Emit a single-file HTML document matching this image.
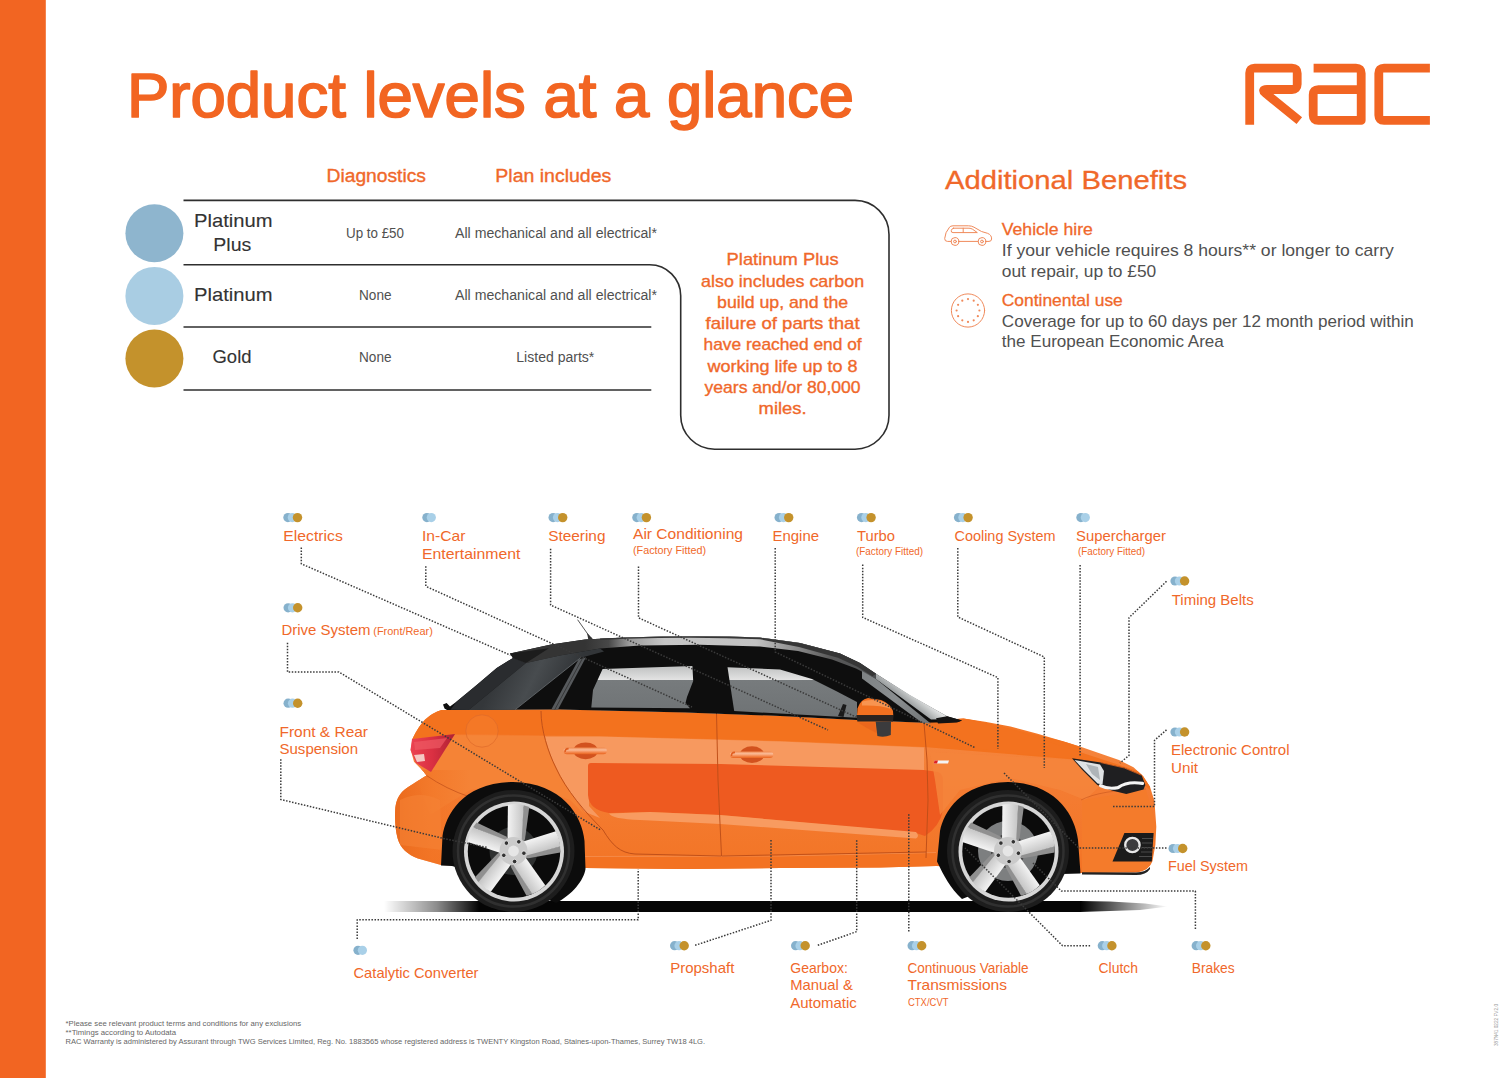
<!DOCTYPE html>
<html lang="en"><head><meta charset="utf-8"><title>Product levels at a glance</title>
<style>
html,body{margin:0;padding:0;background:#fff;}
body{width:1500px;height:1078px;overflow:hidden;font-family:'Liberation Sans', sans-serif;}
svg{display:block}
svg text{font-family:"Liberation Sans",sans-serif;}
</style></head><body>
<svg width="1500" height="1078" viewBox="0 0 1500 1078">
<rect width="1500" height="1078" fill="#fff"/>
<!-- top section -->
<rect x="0" y="0" width="45.8" height="1078" fill="#F26522"/>
<text x="127.0" y="116.5" font-size="62.5" fill="#F26522" text-anchor="start" font-weight="normal" textLength="727.0" lengthAdjust="spacingAndGlyphs" stroke="#F26522" stroke-width="1.7" stroke-linejoin="round">Product levels at a glance</text>
<g fill="none" stroke="#F26522" stroke-width="8.8" stroke-linejoin="round" aria-label="RAC"><title>RAC</title>
<path d="M1249.7 124.8 V73 Q1249.7 68.1 1254.6 68.1 H1292 Q1297.2 68.1 1297.2 73.3 V84.3 Q1297.2 89.5 1292 89.5 H1267 Q1261 89.5 1265.5 93.2 L1299.3 120.6"/>
<path d="M1313.6 68.1 H1356 Q1361.2 68.1 1361.2 73.3 V120.4 H1318.4 Q1313.2 120.4 1313.2 115.2 V94.8 Q1313.2 89.6 1318.4 89.6 H1361.2"/>
<path d="M1429.9 68.1 H1384 Q1378.8 68.1 1378.8 73.3 V115.2 Q1378.8 120.4 1384 120.4 H1429.9"/>
</g>
<text x="326.5" y="181.5" font-size="18" fill="#F0682A" text-anchor="start" font-weight="normal" textLength="99.5" lengthAdjust="spacingAndGlyphs" stroke="#F0682A" stroke-width="0.35">Diagnostics</text>
<text x="495.3" y="181.5" font-size="18" fill="#F0682A" text-anchor="start" font-weight="normal" textLength="116.0" lengthAdjust="spacingAndGlyphs" stroke="#F0682A" stroke-width="0.35">Plan includes</text>
<circle cx="154.4" cy="233.2" r="29" fill="#8EB5CE"/>
<circle cx="154.4" cy="295.9" r="29" fill="#A9CDE3"/>
<circle cx="154.4" cy="358.5" r="29" fill="#C4922C"/>
<g fill="none" stroke="#2e2e2e" stroke-width="1.6">
<path d="M183.5 200.4 H855 A34 34 0 0 1 889 234.4 V415.2 A34 34 0 0 1 855 449.2 H714.7 A34 34 0 0 1 680.7 415.2 V295.8 A31 31 0 0 0 649.7 264.8 H183.5"/>
<path d="M183.5 327 H651.3"/>
<path d="M183.5 390 H651.3"/>
</g>
<text x="194.0" y="227.3" font-size="18.5" fill="#333" text-anchor="start" font-weight="normal" textLength="78.5" lengthAdjust="spacingAndGlyphs" stroke="#333" stroke-width="0.12">Platinum</text>
<text x="213.3" y="250.5" font-size="18.5" fill="#333" text-anchor="start" font-weight="normal" textLength="38.0" lengthAdjust="spacingAndGlyphs" stroke="#333" stroke-width="0.12">Plus</text>
<text x="194.0" y="301.2" font-size="18.5" fill="#333" text-anchor="start" font-weight="normal" textLength="78.5" lengthAdjust="spacingAndGlyphs" stroke="#333" stroke-width="0.12">Platinum</text>
<text x="212.5" y="363.3" font-size="18.5" fill="#333" text-anchor="start" font-weight="normal" textLength="39.0" lengthAdjust="spacingAndGlyphs" stroke="#333" stroke-width="0.12">Gold</text>
<text x="346.0" y="238.0" font-size="13.8" fill="#505050" text-anchor="start" font-weight="normal" textLength="58.0" lengthAdjust="spacingAndGlyphs">Up to £50</text>
<text x="359.0" y="299.9" font-size="13.8" fill="#505050" text-anchor="start" font-weight="normal" textLength="32.5" lengthAdjust="spacingAndGlyphs">None</text>
<text x="359.0" y="362.0" font-size="13.8" fill="#505050" text-anchor="start" font-weight="normal" textLength="32.5" lengthAdjust="spacingAndGlyphs">None</text>
<text x="455.0" y="237.8" font-size="13.8" fill="#505050" text-anchor="start" font-weight="normal" textLength="202.0" lengthAdjust="spacingAndGlyphs">All mechanical and all electrical*</text>
<text x="455.0" y="299.5" font-size="13.8" fill="#505050" text-anchor="start" font-weight="normal" textLength="202.0" lengthAdjust="spacingAndGlyphs">All mechanical and all electrical*</text>
<text x="516.3" y="362.2" font-size="13.8" fill="#505050" text-anchor="start" font-weight="normal" textLength="78.0" lengthAdjust="spacingAndGlyphs">Listed parts*</text>
<text x="782.6" y="265.2" font-size="16.4" fill="#F0682A" text-anchor="middle" font-weight="normal" textLength="112.0" lengthAdjust="spacingAndGlyphs" stroke="#F0682A" stroke-width="0.35">Platinum Plus</text>
<text x="782.6" y="286.5" font-size="16.4" fill="#F0682A" text-anchor="middle" font-weight="normal" textLength="163.0" lengthAdjust="spacingAndGlyphs" stroke="#F0682A" stroke-width="0.35">also includes carbon</text>
<text x="782.6" y="307.7" font-size="16.4" fill="#F0682A" text-anchor="middle" font-weight="normal" textLength="131.0" lengthAdjust="spacingAndGlyphs" stroke="#F0682A" stroke-width="0.35">build up, and the</text>
<text x="782.6" y="329.0" font-size="16.4" fill="#F0682A" text-anchor="middle" font-weight="normal" textLength="154.0" lengthAdjust="spacingAndGlyphs" stroke="#F0682A" stroke-width="0.35">failure of parts that</text>
<text x="782.6" y="350.3" font-size="16.4" fill="#F0682A" text-anchor="middle" font-weight="normal" textLength="158.0" lengthAdjust="spacingAndGlyphs" stroke="#F0682A" stroke-width="0.35">have reached end of</text>
<text x="782.6" y="371.5" font-size="16.4" fill="#F0682A" text-anchor="middle" font-weight="normal" textLength="150.0" lengthAdjust="spacingAndGlyphs" stroke="#F0682A" stroke-width="0.35">working life up to 8</text>
<text x="782.6" y="392.8" font-size="16.4" fill="#F0682A" text-anchor="middle" font-weight="normal" textLength="156.0" lengthAdjust="spacingAndGlyphs" stroke="#F0682A" stroke-width="0.35">years and/or 80,000</text>
<text x="782.6" y="414.1" font-size="16.4" fill="#F0682A" text-anchor="middle" font-weight="normal" textLength="48.0" lengthAdjust="spacingAndGlyphs" stroke="#F0682A" stroke-width="0.35">miles.</text>
<text x="945.0" y="188.8" font-size="25.8" fill="#F0682A" text-anchor="start" font-weight="normal" textLength="242.0" lengthAdjust="spacingAndGlyphs" stroke="#F0682A" stroke-width="0.3">Additional Benefits</text>
<text x="1001.8" y="235.3" font-size="16.6" fill="#F0682A" text-anchor="start" font-weight="normal" textLength="91.0" lengthAdjust="spacingAndGlyphs" stroke="#F0682A" stroke-width="0.3">Vehicle hire</text>
<text x="1001.8" y="256.0" font-size="16.6" fill="#505050" text-anchor="start" font-weight="normal" textLength="392.0" lengthAdjust="spacingAndGlyphs">If your vehicle requires 8 hours** or longer to carry</text>
<text x="1001.8" y="276.7" font-size="16.6" fill="#505050" text-anchor="start" font-weight="normal" textLength="154.5" lengthAdjust="spacingAndGlyphs">out repair, up to £50</text>
<text x="1001.8" y="306.0" font-size="16.6" fill="#F0682A" text-anchor="start" font-weight="normal" textLength="121.0" lengthAdjust="spacingAndGlyphs" stroke="#F0682A" stroke-width="0.3">Continental use</text>
<text x="1001.8" y="326.7" font-size="16.6" fill="#505050" text-anchor="start" font-weight="normal" textLength="412.0" lengthAdjust="spacingAndGlyphs">Coverage for up to 60 days per 12 month period within</text>
<text x="1001.8" y="347.3" font-size="16.6" fill="#505050" text-anchor="start" font-weight="normal" textLength="222.0" lengthAdjust="spacingAndGlyphs">the European Economic Area</text>
<g fill="none" stroke="#F08A5B" stroke-width="1" stroke-linecap="round" stroke-linejoin="round">
<path d="M951.2 241.4 H947.5 Q944.6 241.4 944.7 238.5 Q945 232.5 949.5 227.2 Q950.5 225.9 953 225.8 H968.5 Q971.5 225.8 974 227.2 L981.5 231.5 L987.5 233.3 Q991.8 235 991.6 239 Q991.5 241.4 989 241.4 H985.8 M958.8 241.4 H978.2"/>
<circle cx="955" cy="241.5" r="3.9"/><circle cx="955" cy="241.5" r="1.4"/>
<circle cx="982" cy="241.5" r="3.9"/><circle cx="982" cy="241.5" r="1.4"/>
<path d="M953.5 228.2 H969 Q971 228.3 972.5 229.2 L977.3 232.6 H953 Q950.8 232.6 951.3 230.5 Q951.8 228.3 953.5 228.2 Z M963.2 228.2 V232.6"/>
<circle cx="968" cy="310.5" r="16.6"/>
</g>
<circle cx="968.00" cy="299.10" r="1.1" fill="#F08A5B"/>
<circle cx="973.70" cy="300.63" r="1.1" fill="#F08A5B"/>
<circle cx="977.87" cy="304.80" r="1.1" fill="#F08A5B"/>
<circle cx="979.40" cy="310.50" r="1.1" fill="#F08A5B"/>
<circle cx="977.87" cy="316.20" r="1.1" fill="#F08A5B"/>
<circle cx="973.70" cy="320.37" r="1.1" fill="#F08A5B"/>
<circle cx="968.00" cy="321.90" r="1.1" fill="#F08A5B"/>
<circle cx="962.30" cy="320.37" r="1.1" fill="#F08A5B"/>
<circle cx="958.13" cy="316.20" r="1.1" fill="#F08A5B"/>
<circle cx="956.60" cy="310.50" r="1.1" fill="#F08A5B"/>
<circle cx="958.13" cy="304.80" r="1.1" fill="#F08A5B"/>
<circle cx="962.30" cy="300.63" r="1.1" fill="#F08A5B"/>
<!-- car -->
<defs>
<linearGradient id="shL" x1="0" x2="1" y1="0" y2="0"><stop offset="0" stop-color="#000" stop-opacity="0"/><stop offset="0.55" stop-color="#000" stop-opacity="0.45"/><stop offset="1" stop-color="#000" stop-opacity="1"/></linearGradient>
<linearGradient id="shR" x1="0" x2="1" y1="0" y2="0"><stop offset="0" stop-color="#000" stop-opacity="1"/><stop offset="0.5" stop-color="#000" stop-opacity="0.5"/><stop offset="1" stop-color="#000" stop-opacity="0"/></linearGradient>
<linearGradient id="glass" x1="0" x2="0" y1="665" y2="720" gradientUnits="userSpaceOnUse">
<stop offset="0" stop-color="#bcbebe"/><stop offset="0.265" stop-color="#e2e2e2"/><stop offset="0.275" stop-color="#777b7d"/><stop offset="1" stop-color="#6e7274"/></linearGradient>
<linearGradient id="bodyG" x1="0" x2="0" y1="710" y2="870" gradientUnits="userSpaceOnUse">
<stop offset="0" stop-color="#F3721F"/><stop offset="0.16" stop-color="#F4792A"/><stop offset="0.2" stop-color="#F5853D"/><stop offset="0.5" stop-color="#F47C32"/><stop offset="0.9" stop-color="#F37628"/><stop offset="1" stop-color="#F37224"/></linearGradient>
<linearGradient id="rearG" x1="395" x2="470" y1="0" y2="0" gradientUnits="userSpaceOnUse">
<stop offset="0" stop-color="#EA6A1C"/><stop offset="0.5" stop-color="#F27424" stop-opacity="0.6"/><stop offset="1" stop-color="#F27424" stop-opacity="0"/></linearGradient>
<linearGradient id="hnd" x1="0" x2="0" y1="0" y2="1"><stop offset="0" stop-color="#F08A50"/><stop offset="0.35" stop-color="#FABB98"/><stop offset="0.7" stop-color="#F58A50"/><stop offset="1" stop-color="#E8641F"/></linearGradient>
<linearGradient id="spoke" x1="0" x2="1" y1="0" y2="0"><stop offset="0" stop-color="#f4f4f4"/><stop offset="1" stop-color="#c4c4c4"/></linearGradient>
<linearGradient id="roofG" x1="585" x2="880" y1="0" y2="0" gradientUnits="userSpaceOnUse"><stop offset="0" stop-color="#343434"/><stop offset="0.08" stop-color="#484848"/><stop offset="0.15" stop-color="#9c9c9c"/><stop offset="0.27" stop-color="#c6c6c6"/><stop offset="0.58" stop-color="#c2c2c2"/><stop offset="0.72" stop-color="#8a8a8a"/><stop offset="0.83" stop-color="#5a5a5a"/><stop offset="1" stop-color="#4a4c4e"/></linearGradient>
<linearGradient id="dpil" x1="500" x2="560" y1="670" y2="700" gradientUnits="userSpaceOnUse"><stop offset="0" stop-color="#34373a"/><stop offset="0.5" stop-color="#484c4f"/><stop offset="1" stop-color="#323538"/></linearGradient>
<linearGradient id="wsg" x1="905" x2="912" y1="700" y2="691" gradientUnits="userSpaceOnUse"><stop offset="0" stop-color="#9da1a2"/><stop offset="1" stop-color="#e2e4e4"/></linearGradient>
<linearGradient id="roofHi" x1="600" x2="870" y1="0" y2="0" gradientUnits="userSpaceOnUse">
<stop offset="0" stop-color="#888" stop-opacity="0"/><stop offset="0.3" stop-color="#c8c8c8"/><stop offset="0.6" stop-color="#e6e6e6"/><stop offset="1" stop-color="#888" stop-opacity="0.4"/></linearGradient>
<linearGradient id="tail" x1="410" x2="455" y1="0" y2="0" gradientUnits="userSpaceOnUse"><stop offset="0" stop-color="#EC4452"/><stop offset="0.5" stop-color="#DA3042"/><stop offset="1" stop-color="#AE2234"/></linearGradient>
<linearGradient id="apil" x1="860" x2="936" y1="667" y2="724" gradientUnits="userSpaceOnUse"><stop offset="0" stop-color="#7c8082"/><stop offset="0.5" stop-color="#8a8e90"/><stop offset="1" stop-color="#6c7072"/></linearGradient>
<clipPath id="bodyClip"><path d="M447 710 L441.5 710 Q433 712.6 425 719.4 Q418 727 412.6 738.4 L410.7 750 L414 761.8 L423 771 L426.5 775.5 C418 781 407 787 402 792 C397.5 797 395.6 803 395.2 810 C394.6 820 395.5 830 397.5 838 C400 848 408 855 418 858.5 L441 865 L585 868 L685 869 L780 868 L880 867.5 L936 866 L1080 873 L1136 872.6 C1145 871.5 1150 867 1152.5 861 L1155.4 844.7 L1156.3 826.7 L1154.5 801.3 L1150 786.8 L1143 776 L1133.5 767.3 L1119 760 L1100.9 753.7 L1082.8 747.4 L1064.7 741.8 L1037.6 733.8 L1010.5 726.4 L985 721.8 L963.4 718.6 L950 719.5 L924 722.8 L856 720 L780 716 L685 712.5 L600 710.5 L560 709.5 Z"/></clipPath>
</defs>
<rect x="384" y="901" width="96" height="11" fill="url(#shL)"/>
<rect x="479.5" y="901" width="601" height="11" fill="#050505"/>
<path d="M1080 901 L1110 901.6 L1145 903.6 L1168 906.5 L1140 910 L1080 912 Z" fill="url(#shR)"/>
<g clip-path="url(#bodyClip)">
<rect x="390" y="700" width="780" height="180" fill="url(#bodyG)"/>
<path d="M440 705 L965 718 L1080 745 L1080 760 L924 747 L780 741 L600 736 L455 734 L405 740 Z" fill="#F3721E"/>
<path d="M918 720 L962 719 L1000 726 L1150 775 L1150 790 L1124 768 L1072 758.3 L1020 754 L974.3 748 L945 735 L922 726 Z" fill="#F3721F"/>
<path d="M455 735 L545 736 L560 775 L585 815 L570 800 L520 782 L470 790 L430 815 L415 775 Z" fill="#F58336"/>
<path d="M545 736.5 L600 736.5 L780 741.5 L924 747.5 L924 771 L720 765 L589 764 L589 806 L600 818 L585 812 Q553 772 545 736.5 Z" fill="#F7995F"/>
<path d="M591 763 L720 764 L924 770 L938 772 Q943 774 943 780 L943 810 Q940 826 925 836 L916 833 L720 815 L650 812 L609 813 Q589 810 588 795 L588 766 Q588 763 591 763 Z" fill="#EE5A20"/>
<path d="M609 813.5 L650 812 L720 815 L916 832 Q920 836 916 838.5 L720 824 L640 820 Q612 819 609 813.5 Z" fill="#F89B60"/>
<path d="M585 856.5 L685 856.5 L780 856 L880 854.5 L936 852.5 L936 872 L585 872 Z" fill="#F37222"/>
<path d="M585 856.5 L780 856 L936 852.5" stroke="#F58A48" stroke-width="1" fill="none"/>
<rect x="390" y="770" width="90" height="110" fill="url(#rearG)"/>
<path d="M400 800 Q420 790 440 800 L442 850 L400 845 Z" fill="#F58236" opacity="0.6"/>
<path d="M930 752 L1072 760 L1100 786 L1085 800 L1060 790 L1010 778 L960 790 L940 815 L935 780 Z" fill="#F5853C" opacity="0.85"/>
<path d="M1082 800 L1146 790 L1156 825 L1150 870 L1082 874 Z" fill="#F47B2B"/>
</g>
<g fill="none" stroke="#BE4E18" stroke-width="0.95">
<path d="M541 711 C541 730 548 752 556 768 C566 790 585 812 603 830 C612 845 620 853 635 854 L700 855.5 L721 856"/>
<path d="M716.5 713 L718 780 L721.5 856"/>
<path d="M924 723 L927 760 L928 800 L926 858"/>
<path d="M721.5 856 L926 852"/>
<circle cx="482" cy="731" r="16.2" stroke="#DE6A2A" stroke-width="0.7" fill="#F68A40" fill-opacity="0.25"/>
<path d="M426.5 775.5 Q446 789 470 797" stroke-width="0.7"/>
<path d="M1081 800 Q1100 790 1146 789" stroke-width="0.7" opacity="0.7"/>
</g>
<ellipse cx="585.6" cy="750.8000000000001" rx="12.2" ry="8.4" fill="#D2521E"/>
<rect x="563.6" y="747.6" width="43.2" height="6.6" rx="3.3" fill="url(#hnd)"/>
<path d="M565.1 752.2 Q564.6 748.8000000000001 568.6 748.6" stroke="#E05E20" stroke-width="1.6" fill="none"/>
<ellipse cx="752" cy="754.6" rx="12.2" ry="8.4" fill="#D2521E"/>
<rect x="730" y="751.4" width="43.2" height="6.6" rx="3.3" fill="url(#hnd)"/>
<path d="M731.5 756.0 Q731 752.6 735 752.4" stroke="#E05E20" stroke-width="1.6" fill="none"/>
<path d="M412 739 L455 734 L431 772 L416 763 L410.5 750 Z" fill="url(#tail)"/>
<path d="M414 742 L447 738 L440 748 L415 750 Z" fill="#EE5A64" opacity="0.7"/>
<path d="M414 755 L424 754 L425 761 L417 762 Z" fill="#F6D8D0" opacity="0.9"/>
<path d="M934.5 760.5 H949 L948 763.5 H933.8 Z" fill="#f4f4f4"/><path d="M934.5 760.5 H938 L937 763.5 H933.8 Z" fill="#d22"/>
<path d="M447 710 L444.5 708.6 L443 704.6 L446.6 703 L450 706.5 L456.7 701.6 L476.7 685 L496.7 668 L513 658 L510 653.6 L551 644.4 L585 639.6 L625 637.6 Q700 635 760 637.6 L800 643 L840 653.5 L860 663 L876 673.7 L910 695.5 L947 716.3 L962 720.5 L958 722 L924 722.8 L856 720 L780 716 L685 712.5 L600 710.5 L560 709.5 Z" fill="#0e0e0e"/>
<path d="M510 653.6 L551 644.4 L585 639.6 L625 637.6 Q700 635 760 637.6 L800 643 L840 653.5 L860 663 L876 673.7 L876 679 L856 668.5 L832 659.5 L798 651 L760 646.5 L700 644.8 L640 645.5 L600 648.5 L560 655.5 L526 663 L513 658 Z" fill="url(#roofG)"/>
<path d="M600 638.6 L625 637.6 Q700 635 760 637.6 L800 643 L840 653.5 L860 663 L876 673.7 L872.5 676.2 L857 666.5 L838 657.8 L799 647 L760 639.3 Q700 636.4 625 638.8 L600 640 Z" fill="#363636"/>
<path d="M510 653.6 L549 648.3 L526 663 L513 658 Z" fill="#1c1c1c"/>
<path d="M513 658 L526 663 L468.7 710 L450.5 709.8 L456.7 701.6 L476.7 685 L496.7 668 Z" fill="#2a2c2f"/>
<path d="M526 663 L560 655.5 L600 648.5 L604 651.5 L580.7 657.7 L515.3 709.6 L468.7 710 Z" fill="url(#dpil)"/>
<path d="M580.7 657.7 L515.3 709.6" stroke="#62666a" stroke-width="0.9" fill="none"/>
<path d="M578.6 659.5 L586 657.2 L558 709.6 L551.3 709.6 Z" fill="#56595c"/>
<path d="M582.5 658.3 L554.8 709.6" stroke="#2a2a2a" stroke-width="0.7" fill="none"/>
<path d="M602.6 669 L692.4 666 L693.2 681 L687 697 L685.5 703 L690 708.2 L591.3 707.6 L593 690 Z" fill="url(#glass)"/>
<path d="M727.5 667.2 L780 669.6 L812 679 L836 691 L857 702 L857 717.8 L734.2 711 Z" fill="url(#glass)"/>
<path d="M838 716 L843 704 L846.5 705 L843.5 717 Z" fill="#1a1a1a"/>
<path d="M862 671 L876 679 L931 723.8 L939 724.6 L922 722.8 L862 678.5 Z" fill="url(#apil)"/>
<path d="M876 673.7 L910 695 L947 716.3 L943 719.2 L931 719.6 L876 679 Z" fill="url(#wsg)"/>
<path d="M936 718.3 L947 716.3 L962 720.6 L957 722.6 L938 723.4 Z" fill="#141414"/>
<path d="M577.6 619.7 L590.2 637.5" stroke="#444" stroke-width="0.9" fill="none"/><path d="M587 633 L592.8 638.8 L588.3 639.4 Z" fill="#333"/>
<path d="M857 715.3 L857.5 708.5 Q860 699.5 868 698 L881 700 Q890 703.5 893 711 L893.3 715.3 Z" fill="#F27020"/>
<path d="M862 701.5 Q870 698.6 881 701 Q888 703.6 891.2 709 Q880 705 862 705.6 Z" fill="#F9A060" opacity="0.75"/>
<path d="M856.2 715.3 H893.6 L893 721.4 H857.4 Z" fill="#2a2320"/>
<path d="M875.6 721.4 H891 L890.8 735 Q884 738 877.4 736 Z" fill="#3b3b3d"/>
<path d="M858 722.5 L875 722.5 L876.5 733 Q866 728 858 722.5 Z" fill="#E45F1C" opacity="0.55"/>
<path d="M1072 758.3 L1100.9 762.4 L1124.4 767.8 L1141.6 775.1 L1145.3 785 L1143.5 789.6 L1126.3 794.1 L1111.8 790.5 L1097.3 785 L1082.8 770.6 Z" fill="#1f1f21"/>
<path d="M1074.5 760 L1100 764.5 L1104 771 L1102.5 784.5 L1097.6 783.6 L1084 770 Z" fill="#dfe2e4"/>
<path d="M1086 764 L1098 767 L1100 780 L1092 774 Z" fill="#aeb4b8"/>
<path d="M1100.5 785.6 Q1108 789.6 1118 787.6 Q1127 781 1142.5 783.4" stroke="#f4f4f4" stroke-width="3.2" fill="none" stroke-linecap="round"/>
<path d="M1100.9 762.6 L1124.4 768 L1141.6 775.3" stroke="#D8601E" stroke-width="0.8" fill="none"/>
<path d="M1124.4 833 H1153.6 L1151.8 861.4 H1112.5 Z" fill="#1b1b1b"/>
<path d="M1142 838.5 H1152.6 M1142 843 H1152.4 M1142 847.5 H1152.2 M1141 852 H1152 M1139 856.5 H1151.8" stroke="#4a4a4a" stroke-width="1" fill="none"/>
<circle cx="1132.4" cy="845" r="7.2" fill="#3c3c3e" stroke="#e8e8e8" stroke-width="2.3"/>
<path d="M1082 872.3 L1136 872.5 Q1146 872 1150 867 L1150 869 Q1146 875 1136 875 L1082 874.6 Z" fill="#222"/>
<path d="M441 865.5 L442.5 836 C446 815 462 783 513 782 C562 783 582 815 584.5 841 L585.5 869 C584 880 572 895 556 903 L500 880 L452 866 Z" fill="#0c0c0c"/>
<path d="M937 861.5 L940 831 C944 812 960 783 1008 782 C1056 783 1075 815 1078 840 L1080.5 873.5 L1062 874 L1010 880 L962 899 C950 888 944 876 937 861.5 Z" fill="#0c0c0c"/>
<circle cx="513.5" cy="851" r="61" fill="#1d1d1d"/>
<circle cx="513.5" cy="851" r="55.5" fill="none" stroke="#303030" stroke-width="2.5"/>
<circle cx="514.0" cy="851.6" r="50" fill="#d6d6d6"/>
<circle cx="514.0" cy="851.6" r="46.2" fill="#0b0b0b"/>
<circle cx="513.5" cy="851" r="24" fill="#2e3030"/>
<g transform="translate(513.5 851) rotate(0)"><path d="M7 -9 L10 -45.8 L15.8 -43.9 L11.5 -12 L9 -6 Z" fill="#909090"/><path d="M-6 -8 L-5.6 -46.3 Q3 -47.8 10.2 -45.7 L8 -8 L3 0 L-3 0 Z" fill="url(#spoke)"/></g>
<g transform="translate(513.5 851) rotate(72)"><path d="M7 -9 L10 -45.8 L15.8 -43.9 L11.5 -12 L9 -6 Z" fill="#909090"/><path d="M-6 -8 L-5.6 -46.3 Q3 -47.8 10.2 -45.7 L8 -8 L3 0 L-3 0 Z" fill="url(#spoke)"/></g>
<g transform="translate(513.5 851) rotate(144)"><path d="M7 -9 L10 -45.8 L15.8 -43.9 L11.5 -12 L9 -6 Z" fill="#909090"/><path d="M-6 -8 L-5.6 -46.3 Q3 -47.8 10.2 -45.7 L8 -8 L3 0 L-3 0 Z" fill="url(#spoke)"/></g>
<g transform="translate(513.5 851) rotate(216)"><path d="M7 -9 L10 -45.8 L15.8 -43.9 L11.5 -12 L9 -6 Z" fill="#909090"/><path d="M-6 -8 L-5.6 -46.3 Q3 -47.8 10.2 -45.7 L8 -8 L3 0 L-3 0 Z" fill="url(#spoke)"/></g>
<g transform="translate(513.5 851) rotate(288)"><path d="M7 -9 L10 -45.8 L15.8 -43.9 L11.5 -12 L9 -6 Z" fill="#909090"/><path d="M-6 -8 L-5.6 -46.3 Q3 -47.8 10.2 -45.7 L8 -8 L3 0 L-3 0 Z" fill="url(#spoke)"/></g>
<circle cx="513.5" cy="851" r="14" fill="#cacaca"/>
<circle cx="518.8" cy="841.8" r="2.3" fill="#333" stroke="#e4e4e4" stroke-width="0.9"/>
<circle cx="523.9" cy="853.2" r="2.3" fill="#333" stroke="#e4e4e4" stroke-width="0.9"/>
<circle cx="514.6" cy="861.5" r="2.3" fill="#333" stroke="#e4e4e4" stroke-width="0.9"/>
<circle cx="503.8" cy="855.3" r="2.3" fill="#333" stroke="#e4e4e4" stroke-width="0.9"/>
<circle cx="506.4" cy="843.1" r="2.3" fill="#333" stroke="#e4e4e4" stroke-width="0.9"/>
<circle cx="513.5" cy="851" r="5.4" fill="#e6e6e6"/>
<circle cx="1008" cy="851" r="61" fill="#1d1d1d"/>
<circle cx="1008" cy="851" r="55.5" fill="none" stroke="#303030" stroke-width="2.5"/>
<circle cx="1008.5" cy="851.6" r="50" fill="#d6d6d6"/>
<circle cx="1008.5" cy="851.6" r="46.2" fill="#0b0b0b"/>
<circle cx="1008" cy="851" r="30" fill="#7d7f80"/>
<circle cx="1008" cy="851" r="17" fill="#3a3a3a"/>
<g transform="translate(1008 851) rotate(0)"><path d="M7 -9 L10 -45.8 L15.8 -43.9 L11.5 -12 L9 -6 Z" fill="#909090"/><path d="M-6 -8 L-5.6 -46.3 Q3 -47.8 10.2 -45.7 L8 -8 L3 0 L-3 0 Z" fill="url(#spoke)"/></g>
<g transform="translate(1008 851) rotate(72)"><path d="M7 -9 L10 -45.8 L15.8 -43.9 L11.5 -12 L9 -6 Z" fill="#909090"/><path d="M-6 -8 L-5.6 -46.3 Q3 -47.8 10.2 -45.7 L8 -8 L3 0 L-3 0 Z" fill="url(#spoke)"/></g>
<g transform="translate(1008 851) rotate(144)"><path d="M7 -9 L10 -45.8 L15.8 -43.9 L11.5 -12 L9 -6 Z" fill="#909090"/><path d="M-6 -8 L-5.6 -46.3 Q3 -47.8 10.2 -45.7 L8 -8 L3 0 L-3 0 Z" fill="url(#spoke)"/></g>
<g transform="translate(1008 851) rotate(216)"><path d="M7 -9 L10 -45.8 L15.8 -43.9 L11.5 -12 L9 -6 Z" fill="#909090"/><path d="M-6 -8 L-5.6 -46.3 Q3 -47.8 10.2 -45.7 L8 -8 L3 0 L-3 0 Z" fill="url(#spoke)"/></g>
<g transform="translate(1008 851) rotate(288)"><path d="M7 -9 L10 -45.8 L15.8 -43.9 L11.5 -12 L9 -6 Z" fill="#909090"/><path d="M-6 -8 L-5.6 -46.3 Q3 -47.8 10.2 -45.7 L8 -8 L3 0 L-3 0 Z" fill="url(#spoke)"/></g>
<circle cx="1008" cy="851" r="14" fill="#cacaca"/>
<circle cx="1013.3" cy="841.8" r="2.3" fill="#333" stroke="#e4e4e4" stroke-width="0.9"/>
<circle cx="1018.4" cy="853.2" r="2.3" fill="#333" stroke="#e4e4e4" stroke-width="0.9"/>
<circle cx="1009.1" cy="861.5" r="2.3" fill="#333" stroke="#e4e4e4" stroke-width="0.9"/>
<circle cx="998.3" cy="855.3" r="2.3" fill="#333" stroke="#e4e4e4" stroke-width="0.9"/>
<circle cx="1000.9" cy="843.1" r="2.3" fill="#333" stroke="#e4e4e4" stroke-width="0.9"/>
<circle cx="1008" cy="851" r="5.4" fill="#e6e6e6"/>
<!-- leader lines -->
<g fill="none" stroke="#3a3a3a" stroke-width="1.5" stroke-dasharray="1.5 1.55" stroke-linejoin="round">
<path d="M301.3 547.5 V563.8 L510.5 655.2"/>
<path d="M425.8 566.3 V586.3 L692 707"/>
<path d="M550.6 548.8 V605.1 L828 730"/>
<path d="M638.5 566.4 V617.8 L856 717"/>
<path d="M775.2 548.1 V652 L975.7 748"/>
<path d="M862.7 564.6 V617.4 L997.9 677.6 V748.7"/>
<path d="M957.8 548.1 V617 L1044.3 657 V768"/>
<path d="M1080.1 565 V756"/>
<path d="M1166.5 581.3 L1129 617.7 V755.4 L1120 763"/>
<path d="M1166.5 729.9 L1154.5 740.4 V806.5 H1112.7"/>
<path d="M1166.5 848.1 H1078.9 L1004 773"/>
<path d="M287.5 642.7 V672 H338.9 L600.7 830.1"/>
<path d="M280.8 759.2 V799.5 L445.4 838.9 L488 847.6"/>
<path d="M357.2 939.1 V919.8 H638.2 V868.9"/>
<path d="M695.1 945.3 L771 920.3 V838.9"/>
<path d="M817.8 945.3 L856.7 931.6 V838.9"/>
<path d="M908.8 931.6 V813.8"/>
<path d="M1090.1 945.8 H1062.6 L965 848"/>
<path d="M1195.4 929 V891 H1061.3 L1033 863"/>
</g>
<!-- labels -->
<circle cx="287.9" cy="517.6" r="4.6" fill="#86B1CC"/>
<circle cx="292.3" cy="517.6" r="4.6" fill="#A9D0E8"/>
<circle cx="297.5" cy="517.6" r="4.7" fill="#C4922C"/>
<text x="283.3" y="540.5" font-size="15" fill="#F0682A" text-anchor="start" font-weight="normal" textLength="59.5" lengthAdjust="spacingAndGlyphs">Electrics</text>
<circle cx="426.9" cy="517.6" r="4.6" fill="#86B1CC"/>
<circle cx="431.3" cy="517.6" r="4.6" fill="#A9D0E8"/>
<text x="422.0" y="540.5" font-size="15" fill="#F0682A" text-anchor="start" font-weight="normal" textLength="43.5" lengthAdjust="spacingAndGlyphs">In-Car</text>
<text x="422.0" y="558.7" font-size="15" fill="#F0682A" text-anchor="start" font-weight="normal" textLength="98.5" lengthAdjust="spacingAndGlyphs">Entertainment</text>
<circle cx="553.1" cy="517.6" r="4.6" fill="#86B1CC"/>
<circle cx="557.5" cy="517.6" r="4.6" fill="#A9D0E8"/>
<circle cx="562.7" cy="517.6" r="4.7" fill="#C4922C"/>
<text x="548.2" y="540.5" font-size="15" fill="#F0682A" text-anchor="start" font-weight="normal" textLength="57.3" lengthAdjust="spacingAndGlyphs">Steering</text>
<circle cx="636.8" cy="517.6" r="4.6" fill="#86B1CC"/>
<circle cx="641.2" cy="517.6" r="4.6" fill="#A9D0E8"/>
<circle cx="646.4" cy="517.6" r="4.7" fill="#C4922C"/>
<text x="633.0" y="539.0" font-size="15" fill="#F0682A" text-anchor="start" font-weight="normal" textLength="110.0" lengthAdjust="spacingAndGlyphs">Air Conditioning</text>
<text x="633.0" y="554.0" font-size="10.2" fill="#F0682A" text-anchor="start" font-weight="normal" textLength="73.0" lengthAdjust="spacingAndGlyphs">(Factory Fitted)</text>
<circle cx="779.1" cy="517.6" r="4.6" fill="#86B1CC"/>
<circle cx="783.5" cy="517.6" r="4.6" fill="#A9D0E8"/>
<circle cx="788.7" cy="517.6" r="4.7" fill="#C4922C"/>
<text x="772.5" y="540.5" font-size="15" fill="#F0682A" text-anchor="start" font-weight="normal" textLength="46.5" lengthAdjust="spacingAndGlyphs">Engine</text>
<circle cx="861.5" cy="517.6" r="4.6" fill="#86B1CC"/>
<circle cx="865.9" cy="517.6" r="4.6" fill="#A9D0E8"/>
<circle cx="871.1" cy="517.6" r="4.7" fill="#C4922C"/>
<text x="857.0" y="540.5" font-size="15" fill="#F0682A" text-anchor="start" font-weight="normal" textLength="38.0" lengthAdjust="spacingAndGlyphs">Turbo</text>
<text x="856.0" y="554.5" font-size="10.2" fill="#F0682A" text-anchor="start" font-weight="normal" textLength="67.0" lengthAdjust="spacingAndGlyphs">(Factory Fitted)</text>
<circle cx="958.5" cy="517.6" r="4.6" fill="#86B1CC"/>
<circle cx="962.9" cy="517.6" r="4.6" fill="#A9D0E8"/>
<circle cx="968.1" cy="517.6" r="4.7" fill="#C4922C"/>
<text x="954.5" y="540.5" font-size="15" fill="#F0682A" text-anchor="start" font-weight="normal" textLength="101.0" lengthAdjust="spacingAndGlyphs">Cooling System</text>
<circle cx="1080.9" cy="517.6" r="4.6" fill="#86B1CC"/>
<circle cx="1085.3" cy="517.6" r="4.6" fill="#A9D0E8"/>
<text x="1076.0" y="540.5" font-size="15" fill="#F0682A" text-anchor="start" font-weight="normal" textLength="90.0" lengthAdjust="spacingAndGlyphs">Supercharger</text>
<text x="1078.0" y="554.5" font-size="10.2" fill="#F0682A" text-anchor="start" font-weight="normal" textLength="67.0" lengthAdjust="spacingAndGlyphs">(Factory Fitted)</text>
<circle cx="288.1" cy="607.8" r="4.6" fill="#86B1CC"/>
<circle cx="292.5" cy="607.8" r="4.6" fill="#A9D0E8"/>
<circle cx="297.7" cy="607.8" r="4.7" fill="#C4922C"/>
<text x="281.5" y="635.2" font-size="15" fill="#F0682A" text-anchor="start" font-weight="normal" textLength="89.0" lengthAdjust="spacingAndGlyphs">Drive System</text>
<text x="373.3" y="635.2" font-size="10.2" fill="#F0682A" text-anchor="start" font-weight="normal" textLength="59.5" lengthAdjust="spacingAndGlyphs">(Front/Rear)</text>
<circle cx="288.1" cy="703.2" r="4.6" fill="#86B1CC"/>
<circle cx="292.5" cy="703.2" r="4.6" fill="#A9D0E8"/>
<circle cx="297.7" cy="703.2" r="4.7" fill="#C4922C"/>
<text x="279.5" y="737.4" font-size="15" fill="#F0682A" text-anchor="start" font-weight="normal" textLength="88.5" lengthAdjust="spacingAndGlyphs">Front &amp; Rear</text>
<text x="279.5" y="754.2" font-size="15" fill="#F0682A" text-anchor="start" font-weight="normal" textLength="78.5" lengthAdjust="spacingAndGlyphs">Suspension</text>
<circle cx="1175.0" cy="581" r="4.6" fill="#86B1CC"/>
<circle cx="1179.4" cy="581" r="4.6" fill="#A9D0E8"/>
<circle cx="1184.6" cy="581" r="4.7" fill="#C4922C"/>
<text x="1171.7" y="604.6" font-size="15" fill="#F0682A" text-anchor="start" font-weight="normal" textLength="82.0" lengthAdjust="spacingAndGlyphs">Timing Belts</text>
<circle cx="1175.0" cy="732" r="4.6" fill="#86B1CC"/>
<circle cx="1179.4" cy="732" r="4.6" fill="#A9D0E8"/>
<circle cx="1184.6" cy="732" r="4.7" fill="#C4922C"/>
<text x="1171.0" y="754.9" font-size="15" fill="#F0682A" text-anchor="start" font-weight="normal" textLength="118.5" lengthAdjust="spacingAndGlyphs">Electronic Control</text>
<text x="1171.0" y="773.0" font-size="15" fill="#F0682A" text-anchor="start" font-weight="normal" textLength="27.0" lengthAdjust="spacingAndGlyphs">Unit</text>
<circle cx="1173.1" cy="848.5" r="4.6" fill="#86B1CC"/>
<circle cx="1177.5" cy="848.5" r="4.6" fill="#A9D0E8"/>
<circle cx="1182.7" cy="848.5" r="4.7" fill="#C4922C"/>
<text x="1168.0" y="871.4" font-size="15" fill="#F0682A" text-anchor="start" font-weight="normal" textLength="80.0" lengthAdjust="spacingAndGlyphs">Fuel System</text>
<circle cx="358.0" cy="950.3" r="4.6" fill="#86B1CC"/>
<circle cx="362.4" cy="950.3" r="4.6" fill="#A9D0E8"/>
<text x="353.5" y="977.9" font-size="15" fill="#F0682A" text-anchor="start" font-weight="normal" textLength="125.0" lengthAdjust="spacingAndGlyphs">Catalytic Converter</text>
<circle cx="674.6" cy="945.7" r="4.6" fill="#86B1CC"/>
<circle cx="679.0" cy="945.7" r="4.6" fill="#A9D0E8"/>
<circle cx="684.2" cy="945.7" r="4.7" fill="#C4922C"/>
<text x="670.3" y="972.9" font-size="15" fill="#F0682A" text-anchor="start" font-weight="normal" textLength="64.0" lengthAdjust="spacingAndGlyphs">Propshaft</text>
<circle cx="795.6" cy="945.7" r="4.6" fill="#86B1CC"/>
<circle cx="800.0" cy="945.7" r="4.6" fill="#A9D0E8"/>
<circle cx="805.2" cy="945.7" r="4.7" fill="#C4922C"/>
<text x="790.3" y="973.4" font-size="15" fill="#F0682A" text-anchor="start" font-weight="normal" textLength="57.5" lengthAdjust="spacingAndGlyphs">Gearbox:</text>
<text x="790.3" y="990.4" font-size="15" fill="#F0682A" text-anchor="start" font-weight="normal" textLength="62.5" lengthAdjust="spacingAndGlyphs">Manual &amp;</text>
<text x="790.3" y="1007.5" font-size="15" fill="#F0682A" text-anchor="start" font-weight="normal" textLength="66.5" lengthAdjust="spacingAndGlyphs">Automatic</text>
<circle cx="912.1" cy="945.7" r="4.6" fill="#86B1CC"/>
<circle cx="916.5" cy="945.7" r="4.6" fill="#A9D0E8"/>
<circle cx="921.7" cy="945.7" r="4.7" fill="#C4922C"/>
<text x="907.5" y="973.4" font-size="15" fill="#F0682A" text-anchor="start" font-weight="normal" textLength="121.0" lengthAdjust="spacingAndGlyphs">Continuous Variable</text>
<text x="907.5" y="990.0" font-size="15" fill="#F0682A" text-anchor="start" font-weight="normal" textLength="99.5" lengthAdjust="spacingAndGlyphs">Transmissions</text>
<text x="908.0" y="1005.5" font-size="10.2" fill="#F0682A" text-anchor="start" font-weight="normal" textLength="40.5" lengthAdjust="spacingAndGlyphs">CTX/CVT</text>
<circle cx="1102.3" cy="945.7" r="4.6" fill="#86B1CC"/>
<circle cx="1106.7" cy="945.7" r="4.6" fill="#A9D0E8"/>
<circle cx="1111.9" cy="945.7" r="4.7" fill="#C4922C"/>
<text x="1098.5" y="972.9" font-size="15" fill="#F0682A" text-anchor="start" font-weight="normal" textLength="39.5" lengthAdjust="spacingAndGlyphs">Clutch</text>
<circle cx="1196.2" cy="945.7" r="4.6" fill="#86B1CC"/>
<circle cx="1200.6" cy="945.7" r="4.6" fill="#A9D0E8"/>
<circle cx="1205.8" cy="945.7" r="4.7" fill="#C4922C"/>
<text x="1191.7" y="972.9" font-size="15" fill="#F0682A" text-anchor="start" font-weight="normal" textLength="43.0" lengthAdjust="spacingAndGlyphs">Brakes</text>
<text x="65.6" y="1026.3" font-size="6.3" fill="#666" text-anchor="start" font-weight="normal" textLength="235.5" lengthAdjust="spacingAndGlyphs">*Please see relevant product terms and conditions for any exclusions</text>
<text x="65.6" y="1035.2" font-size="6.3" fill="#666" text-anchor="start" font-weight="normal" textLength="110.5" lengthAdjust="spacingAndGlyphs">**Timings according to Autodata</text>
<text x="65.6" y="1044.3" font-size="6.3" fill="#666" text-anchor="start" font-weight="normal" textLength="639.5" lengthAdjust="spacingAndGlyphs">RAC Warranty is administered by Assurant through TWG Services Limited, Reg. No. 1883565  whose registered address is TWENTY Kingston Road, Staines-upon-Thames, Surrey TW18 4LG.</text>
<text transform="translate(1498 1046) rotate(-90)" font-size="4.6" fill="#999" textLength="42" lengthAdjust="spacingAndGlyphs">387N41 0222 FV2.0</text>
</svg>
</body></html>
